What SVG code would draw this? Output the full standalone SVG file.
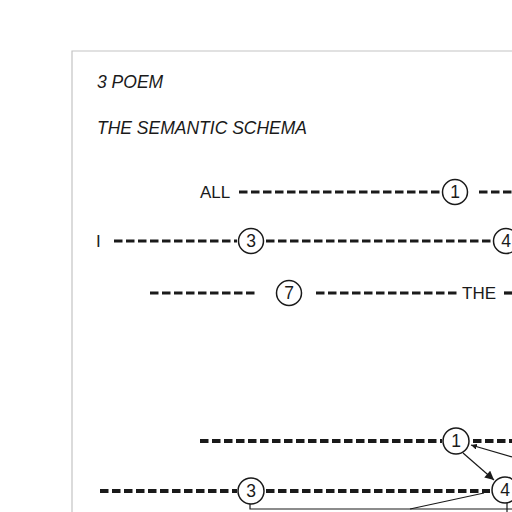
<svg xmlns="http://www.w3.org/2000/svg" width="512" height="512" viewBox="0 0 512 512">
<style>
.frame{stroke:#c4c4c4;stroke-width:1.2;fill:none}
.dash{stroke:#1a1a1a;stroke-width:3.2;stroke-dasharray:8.5 3.5;fill:none}
.dash2{stroke:#1a1a1a;stroke-width:4;stroke-dasharray:8.5 3.5;fill:none}
.node circle{fill:#fff;stroke:#1a1a1a;stroke-width:1.5}
.node text{font-family:"Liberation Sans",Arial,sans-serif;font-size:17.5px;fill:#1a1a1a;text-anchor:middle}
.lbl{font-family:"Liberation Sans",Arial,sans-serif;font-size:17px;fill:#1a1a1a}
.title{font-family:"Liberation Sans",Arial,sans-serif;font-size:17.5px;font-style:italic;fill:#1a1a1a}
.thin{stroke:#1a1a1a;stroke-width:1.2;fill:none}
</style>
<defs>
<marker id="ah" viewBox="0 0 10 10" refX="10" refY="5" markerWidth="10" markerHeight="9" markerUnits="userSpaceOnUse" orient="auto">
<path d="M0,0 L10,5 L0,10 z" fill="#1a1a1a"/>
</marker>
<marker id="ah2" viewBox="0 0 10 10" refX="10" refY="5" markerWidth="6" markerHeight="6" markerUnits="userSpaceOnUse" orient="auto">
<path d="M0,0 L10,5 L0,10 z" fill="#1a1a1a"/>
</marker>
</defs>
<rect width="512" height="512" fill="#fff"/>
<path class="frame" d="M72,512 L72,51 L512,51"/>
<text class="title" x="97" y="88">3 POEM</text>
<text class="title" x="97" y="134">THE SEMANTIC SCHEMA</text>
<text class="lbl" x="200" y="198">ALL</text>
<text class="lbl" x="96" y="247">I</text>
<text class="lbl" x="462" y="299">THE</text>
<g id="connectors">
<line class="dash" x1="239" y1="192" x2="441" y2="192"/>
<line class="dash" x1="479" y1="192" x2="512" y2="192"/>
<line class="dash" x1="114" y1="241" x2="237" y2="241"/>
<line class="dash" x1="266" y1="241" x2="492" y2="241"/>
<line class="dash" x1="150" y1="293" x2="258" y2="293"/>
<line class="dash" x1="316" y1="293" x2="460" y2="293"/>
<line class="dash" x1="504" y1="293" x2="512" y2="293"/>
<line class="dash2" x1="200" y1="441" x2="442" y2="441"/>
<line class="dash2" x1="473" y1="441" x2="512" y2="441"/>
<line class="dash2" x1="100" y1="491" x2="237" y2="491"/>
<line class="dash2" x1="266" y1="491" x2="490" y2="491"/>
<line class="thin" x1="463" y1="453" x2="494" y2="480" marker-end="url(#ah)"/>
<line class="thin" x1="512" y1="457" x2="471" y2="445" marker-end="url(#ah2)"/>
<path class="thin" d="M250,504 L250,509 L512,509"/>
<line class="thin" x1="484" y1="493" x2="410" y2="509"/>
<line class="thin" x1="507" y1="503" x2="507" y2="512"/>
</g>
<g id="n1a" class="node"><circle cx="455" cy="192" r="12.5"/><text x="455" y="198">1</text></g>
<g id="n3a" class="node"><circle cx="251" cy="241" r="12.5"/><text x="251" y="247">3</text></g>
<g id="n4a" class="node"><circle cx="506" cy="241" r="12.5"/><text x="506" y="247">4</text></g>
<g id="n7a" class="node"><circle cx="289" cy="293" r="12.5"/><text x="289" y="299">7</text></g>
<g id="n1b" class="node"><circle cx="456" cy="441" r="13"/><text x="456" y="447">1</text></g>
<g id="n3b" class="node"><circle cx="251" cy="491" r="13"/><text x="251" y="497">3</text></g>
<g id="n4b" class="node"><circle cx="505" cy="490" r="13"/><text x="505" y="496">4</text></g>
</svg>
